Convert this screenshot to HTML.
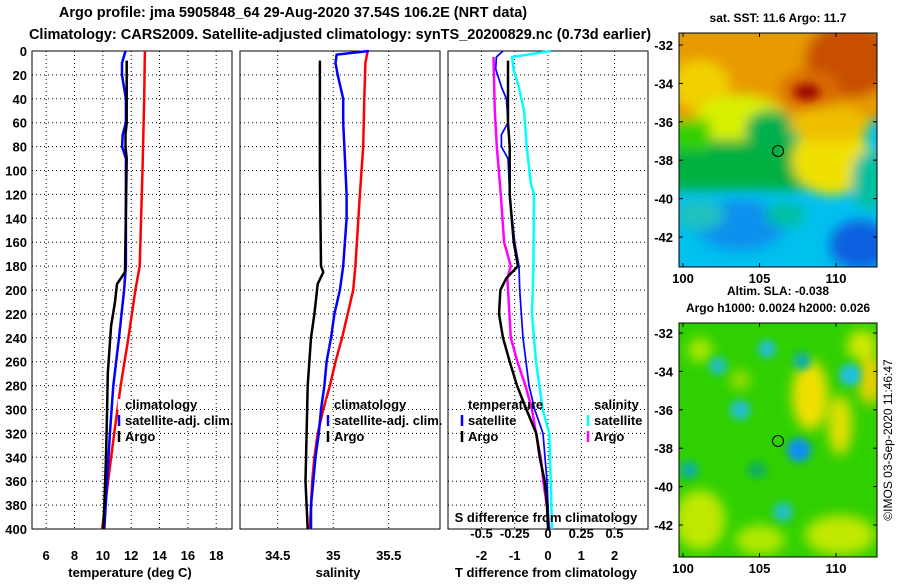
<!DOCTYPE html>
<html><head><meta charset="utf-8"><style>
body{margin:0;background:#fff;width:900px;height:580px;overflow:hidden}
svg text{font-family:"Liberation Sans",sans-serif;font-weight:bold;fill:#000}
</style></head><body>
<svg id="chart" width="900" height="580">
<defs>
<filter id="bl" x="-50%" y="-50%" width="200%" height="200%"><feGaussianBlur stdDeviation="6"/></filter>
<filter id="bl2" x="-50%" y="-50%" width="200%" height="200%"><feGaussianBlur stdDeviation="4"/></filter>
<clipPath id="c1"><rect x="679" y="33" width="198" height="234"/></clipPath>
<clipPath id="c2"><rect x="679" y="323" width="198" height="234"/></clipPath>
</defs>
<text x="293" y="17" text-anchor="middle" font-size="14.5">Argo profile: jma 5905848_64 29-Aug-2020 37.54S 106.2E (NRT data)</text>
<text x="340" y="39" text-anchor="middle" font-size="14.5">Climatology: CARS2009. Satellite-adjusted climatology: synTS_20200829.nc (0.73d earlier)</text>
<g id="panels"></g>
<!-- SST map -->
<text x="778" y="22" text-anchor="middle" font-size="12">sat. SST: 11.6 Argo: 11.7</text>
<g clip-path="url(#c1)">
<rect x="679" y="33" width="198" height="234" fill="#00c0ee"/>
<g filter="url(#bl)">
<rect x="670" y="25" width="220" height="95" fill="#e89a00"/>
<ellipse cx="850" cy="60" rx="45" ry="38" fill="#c85000"/>
<ellipse cx="810" cy="90" rx="30" ry="20" fill="#d86a00"/>
<ellipse cx="700" cy="85" rx="30" ry="25" fill="#f0d000"/>
<ellipse cx="740" cy="120" rx="45" ry="25" fill="#d8f000"/>
<rect x="670" y="140" width="140" height="50" fill="#00b040"/>
<rect x="670" y="120" width="40" height="30" fill="#30d000"/>
<ellipse cx="770" cy="130" rx="25" ry="20" fill="#00b050"/>
<ellipse cx="832" cy="160" rx="40" ry="35" fill="#f0e000"/>
<ellipse cx="830" cy="125" rx="40" ry="18" fill="#f0c000"/>
<ellipse cx="870" cy="180" rx="18" ry="30" fill="#00c0a0"/>
<ellipse cx="740" cy="225" rx="45" ry="25" fill="#1090ee"/>
<ellipse cx="860" cy="245" rx="30" ry="25" fill="#1060e0"/>
<ellipse cx="785" cy="215" rx="20" ry="12" fill="#00c0a0"/>
<ellipse cx="700" cy="215" rx="25" ry="15" fill="#20c0c0"/>
</g>
<ellipse cx="807" cy="92" rx="13" ry="8" fill="#a01000" filter="url(#bl2)"/>
</g>
<rect x="679" y="33" width="198" height="234" fill="none" stroke="#000" stroke-width="1"/>
<circle cx="778" cy="151" r="5.5" fill="none" stroke="#000"/>
<!-- SLA map -->
<text x="778" y="295" text-anchor="middle" font-size="12">Altim. SLA: -0.038</text>
<text x="778" y="312" text-anchor="middle" font-size="12">Argo h1000: 0.0024 h2000: 0.026</text>
<g clip-path="url(#c2)">
<rect x="679" y="323" width="198" height="234" fill="#30d000"/>
<g filter="url(#bl)">
<ellipse cx="700" cy="520" rx="25" ry="30" fill="#c0e800"/>
<ellipse cx="760" cy="540" rx="25" ry="15" fill="#b0e800"/>
<ellipse cx="840" cy="535" rx="35" ry="20" fill="#c0e800"/>
<ellipse cx="810" cy="395" rx="18" ry="35" fill="#f0e000"/>
<ellipse cx="840" cy="425" rx="12" ry="30" fill="#e0e000"/>
<ellipse cx="870" cy="380" rx="12" ry="25" fill="#e8d000"/>
<ellipse cx="862" cy="345" rx="15" ry="15" fill="#d0e800"/>
<ellipse cx="700" cy="350" rx="12" ry="12" fill="#b0e800"/>
<ellipse cx="740" cy="380" rx="10" ry="10" fill="#a0e000"/>
</g>
<g filter="url(#bl2)">
<ellipse cx="767" cy="349" rx="9" ry="9" fill="#20c0d0"/>
<ellipse cx="718" cy="366" rx="9" ry="9" fill="#20c0c0"/>
<ellipse cx="802" cy="361" rx="9" ry="9" fill="#10b0a0"/>
<ellipse cx="850" cy="375" rx="11" ry="11" fill="#20c0e0"/>
<ellipse cx="740" cy="410" rx="10" ry="10" fill="#20c0d0"/>
<ellipse cx="799" cy="450" rx="12" ry="12" fill="#1090f0"/>
<ellipse cx="689" cy="470" rx="9" ry="9" fill="#10b0a0"/>
<ellipse cx="783" cy="512" rx="10" ry="10" fill="#20c0c0"/>
<ellipse cx="757" cy="470" rx="10" ry="8" fill="#10b060"/>
</g>
</g>
<rect x="679" y="323" width="198" height="234" fill="none" stroke="#000"/>
<circle cx="778" cy="441" r="5.5" fill="none" stroke="#000"/>
<text transform="translate(892,440) rotate(-90)" text-anchor="middle" font-size="12" style="font-weight:normal">©IMOS 03-Sep-2020 11:46:47</text>
<g id="maps"></g>
</svg>
<script>
// depths
const depthTicks=[0,20,40,60,80,100,120,140,160,180,200,220,240,260,280,300,320,340,360,380,400];
// temperature panel
const tClimD=[0,10,40,100,180,200,240,280,320,360,400];
const tClimV=[12.97,12.95,12.92,12.8,12.6,12.3,11.8,11.26,10.8,10.37,9.95];
const tSatD=[0,10,20,40,60,70,80,90,180,200,240,280,320,360,400];
const tSatV=[11.6,11.35,11.35,11.63,11.63,11.4,11.36,11.63,11.63,11.5,11.14,10.74,10.5,10.3,10.1];
const tArgoD=[8,60,70,80,90,185,195,210,230,270,300,340,380,400];
const tArgoV=[11.68,11.68,11.6,11.6,11.68,11.56,11.0,10.86,10.58,10.35,10.3,10.22,10.1,10.04];
const tTicks=[6,8,10,12,14,16,18];
// salinity panel
const sClimD=[0,10,40,80,120,180,200,220,240,260,280,300,320,340,360,400];
const sClimV=[35.31,35.29,35.28,35.27,35.24,35.2,35.18,35.13,35.08,35.02,34.97,34.91,34.86,34.83,34.81,34.79];
const sSatD=[0,3,10,20,40,60,100,120,140,180,200,220,240,260,280,300,320,340,360,380,400];
const sSatV=[35.32,35.03,35.02,35.04,35.09,35.09,35.11,35.12,35.12,35.09,35.06,35.01,34.98,34.94,34.92,34.89,34.87,34.84,34.82,34.8,34.8];
const sArgoD=[8,100,180,185,195,220,240,280,320,360,400];
const sArgoV=[34.88,34.88,34.89,34.91,34.86,34.83,34.8,34.77,34.76,34.75,34.77];
const sTicks=[34.5,35,35.5];
// difference panel
const dTSatD=[0,5,15,30,40,60,70,80,90,120,160,180,200,240,280,300,320,360,400];
const dTSatV=[-1.35,-1.55,-1.57,-1.4,-1.25,-1.2,-1.4,-1.4,-1.2,-1.15,-1.0,-0.87,-0.85,-0.75,-0.57,-0.4,-0.15,-0.03,0.03];
const dTArgoD=[8,60,80,120,160,180,190,200,220,240,260,280,300,320,340,360,380,400];
const dTArgoV=[-1.2,-1.2,-1.15,-1.15,-1.03,-0.9,-1.25,-1.43,-1.47,-1.35,-1.15,-0.93,-0.65,-0.35,-0.25,-0.1,-0.03,0];
const dSSatD=[0,5,15,30,50,80,110,120,180,220,260,300,320,360,400];
const dSSatV=[0.02,-0.27,-0.26,-0.22,-0.18,-0.16,-0.13,-0.105,-0.11,-0.12,-0.09,-0.04,0.01,0.02,0.03];
const dSArgoD=[5,50,80,120,160,180,190,220,240,260,280,300,320,340,360,380,400];
const dSArgoV=[-0.41,-0.4,-0.385,-0.355,-0.33,-0.28,-0.305,-0.29,-0.28,-0.23,-0.17,-0.12,-0.09,-0.055,-0.035,-0.01,0.01];
const dTTicks=[-2,-1,0,1,2];
const dSTicks=[-0.5,-0.25,0,0.25,0.5];
const dSTickLabels=["-0.5","-0.25","0","0.25","0.5"];
// map ticks
const lonTicks=[100,105,110];
const latTicks=[-32,-34,-36,-38,-40,-42];

const NS='http://www.w3.org/2000/svg';
const g=document.getElementById('panels');
const Y0=51,Y1=529;
const yD=d=>Y0+d*(Y1-Y0)/400;
function el(tag,attrs,parent){const e=document.createElementNS(NS,tag);for(const k in attrs)e.setAttribute(k,attrs[k]);(parent||g).appendChild(e);return e;}
function txt(x,y,s,anchor,size){const t=el('text',{x:x,y:y,'text-anchor':anchor||'middle','font-size':size||13});t.textContent=s;return t;}
function panel(x0,x1,name){
  for(const d of depthTicks){if(d>0&&d<400){const l=el('line',{x1:x0,x2:x1,y1:yD(d),y2:yD(d),stroke:'#000','stroke-dasharray':'1,3'});
  
  }}
  const r=el('rect',{x:x0,y:Y0,width:x1-x0,height:Y1-Y0,fill:'none',stroke:'#000'});
  
  
}
function vgrid(x,name){const l=el('line',{x1:x,x2:x,y1:Y0,y2:Y1,stroke:'#000','stroke-dasharray':'1,3'});
  
  }
function line(D,V,sx,color,w,name){
  const pts=D.map((d,i)=>sx(V[i]).toFixed(1)+','+yD(d).toFixed(1)).join(' ');
  const p=el('polyline',{points:pts,fill:'none',stroke:color,'stroke-width':w});
  
  
}
// panel 1
const sxT=v=>32+(v-5)*14.17;
panel(32,232,'temperature-panel');
for(const t of tTicks){vgrid(sxT(t),'temperature');const l=txt(sxT(t),560,String(t));
  
  }
for(const d of depthTicks){const l=txt(27,yD(d)+5,String(d),'end');
  
  }
line(tClimD,tClimV,sxT,'#f00',2.5,'temperature-climatology-line');
line(tSatD,tSatV,sxT,'#00f',2.5,'temperature-satellite-line');
line(tArgoD,tArgoV,sxT,'#000',2.5,'temperature-argo-line');
let t=txt(130,577,'temperature (deg C)');
function legend(x,y,items,name){items.forEach((it,i)=>{
  const m=el('line',{x1:x-6,x2:x-6,y1:y+i*16-10,y2:y+i*16+1,stroke:it[1],'stroke-width':2.5});
  
  
  const l=txt(x,y+i*16,it[0],'start');
  
  });}
legend(125,409,[['climatology','#fff'],['satellite-adj. clim.','#00f'],['Argo','#000']],'temperature-legend');
// panel 2
const sxS=v=>240+(v-34.16)*111;
panel(240,440,'salinity-panel');
for(const s of sTicks){vgrid(sxS(s),'salinity');const l=txt(sxS(s),560,String(s));
  
  }
line(sClimD,sClimV,sxS,'#f00',2.5,'salinity-climatology-line');
line(sSatD,sSatV,sxS,'#00f',2.5,'salinity-satellite-line');
line(sArgoD,sArgoV,sxS,'#000',2.5,'salinity-argo-line');
t=txt(338,577,'salinity');
legend(334,409,[['climatology','#fff'],['satellite-adj. clim.','#00f'],['Argo','#000']],'salinity-legend');
// panel 3
const sxDT=v=>548+v*33.3;
const sxDS=v=>548+v*133;
panel(448,648,'difference-panel');
for(const d of dTTicks){vgrid(sxDT(d),'difference');const l=txt(sxDT(d),560,String(d));
  
  }
dSTicks.forEach((s,i)=>{const l=txt(sxDS(s),538,dSTickLabels[i]);
  
  });
line(dSSatD,dSSatV,sxDS,'#0ff',2.5,'s-diff-satellite-line');
line(dSArgoD,dSArgoV,sxDS,'#f0f',2.5,'s-diff-argo-line');
line(dTSatD,dTSatV,sxDT,'#00f',1.7,'t-diff-satellite-line');
line(dTArgoD,dTArgoV,sxDT,'#000',2.5,'t-diff-argo-line');
t=txt(546,522,'S difference from climatology');
t=txt(546,577,'T difference from climatology');
t=txt(468,409,'temperature','start');
t=txt(594,409,'salinity','start');
legend(468,425,[['satellite','#00f'],['Argo','#000']],'diff-legend-temperature');
legend(594,425,[['satellite','#0ff'],['Argo','#f0f']],'diff-legend-salinity');
// map axes
const mg=document.getElementById('maps');
function mapAxes(top,lat0px,name){
  const lx=v=>683+(v-100)*15.3;
  const ly=v=>lat0px+(-32-v)*19.2;
  for(const lo of lonTicks){
    el('line',{x1:lx(lo),x2:lx(lo),y1:top,y2:top+4,stroke:'#000'},mg);
    el('line',{x1:lx(lo),x2:lx(lo),y1:top+234,y2:top+230,stroke:'#000'},mg);
    const l=txt(lx(lo),top+250,String(lo),'middle',13);mg.appendChild(l);
    
    }
  for(const la of latTicks){
    el('line',{x1:679,x2:683,y1:ly(la),y2:ly(la),stroke:'#000'},mg);
    el('line',{x1:877,x2:873,y1:ly(la),y2:ly(la),stroke:'#000'},mg);
    const l=txt(673,ly(la)+5,String(la),'end',13);mg.appendChild(l);
    
    }
}
mapAxes(33,45,'sst-map');
mapAxes(323,333,'sla-map');
</script>
</body></html>
